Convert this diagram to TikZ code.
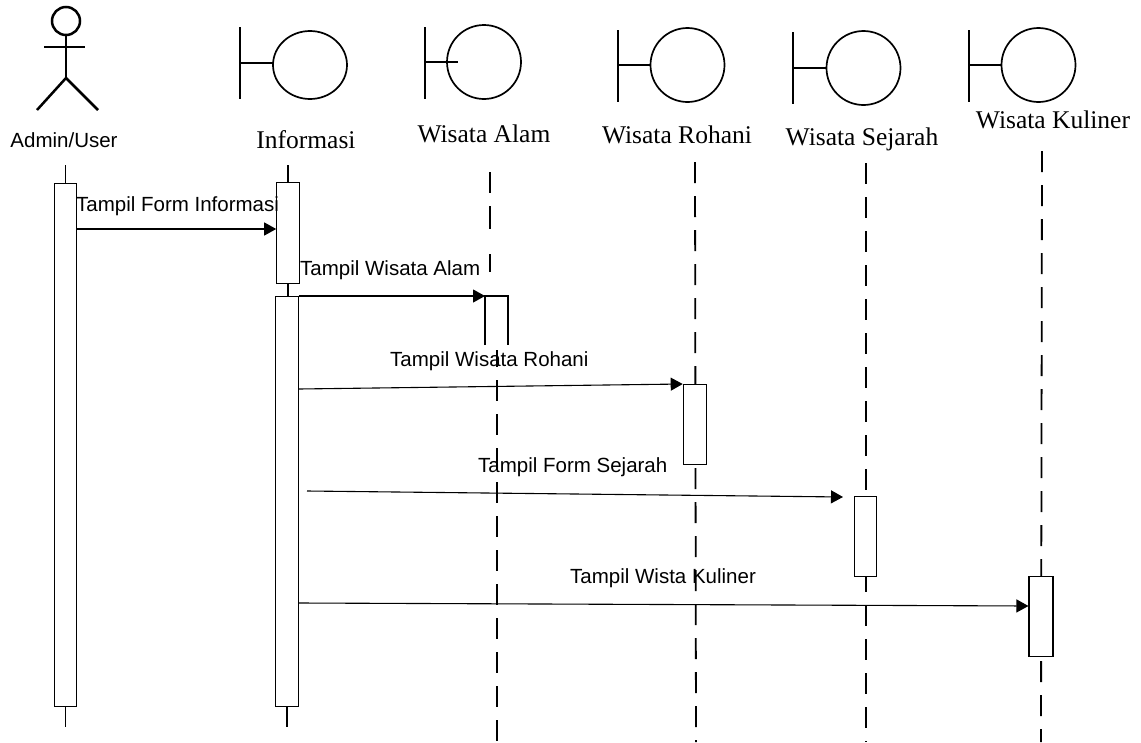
\documentclass[tikz,border=0pt]{standalone}
\usepackage{fontspec}
\setmainfont{Liberation Serif}
\setsansfont{Liberation Sans}
\usetikzlibrary{arrows.meta}
\begin{document}
\begin{tikzpicture}[x=1pt,y=-1pt,
  icon/.style={line width=1.7pt},
  actorline/.style={line width=2.5pt},
  act/.style={draw,line width=1.1pt,fill=white,inner sep=0pt,minimum width=22.5pt},
  life/.style={line width=1.1pt},
  dashlife/.style={line width=1.8pt,dash pattern=on 21pt off 13pt},
  msg/.style={line width=1.1pt,-{Triangle[length=12pt,width=13pt]}},
  slabel/.style={font=\fontsize{20.5}{24}\sffamily,inner sep=0pt},
  tlabel/.style={font=\fontsize{25.5}{30}\rmfamily,inner sep=0pt,anchor=base}]
\useasboundingbox (0,0) rectangle (1141,742);
\fill[white] (0,0) rectangle (1141,742);

% ---- actor ----
\draw[actorline] (66,21) circle (14);
\draw[actorline] (66,35) -- (66,78);
\draw[actorline] (44,47) -- (85,47);
\draw[actorline] (37,110) -- (66,78) -- (98,110);
\node[slabel,anchor=base] (lAdmin) at (64,147) {Admin/User};

% ---- boundary icons ----
\draw[icon] (240,27) -- (240,99);
\draw[icon] (240,63) -- (273,63);
\draw[icon] (310,65) ellipse (37 and 34);
\node[tlabel] (lInfo) at (306,148) {Informasi};

\draw[icon] (425,27) -- (425,99);
\draw[icon] (425,62) -- (458,62);
\draw[icon] (484,62) circle (37);
\node[tlabel] (lAlam) at (484,142) {Wisata Alam};

\draw[icon] (618,30) -- (618,102);
\draw[icon] (618,65) -- (650,65);
\draw[icon] (687.5,65) circle (37);
\node[tlabel] (lRohani) at (677,143) {Wisata Rohani};

\draw[icon] (793,32) -- (793,104);
\draw[icon] (793,68) -- (826,68);
\draw[icon] (863.5,68) circle (37);
\node[tlabel] (lSejarah) at (862,145) {Wisata Sejarah};

\draw[icon] (969,30) -- (969,102);
\draw[icon] (969,65) -- (1001,65);
\draw[icon] (1038.5,65) circle (37);
\node[tlabel] (lKuliner) at (1053,128) {Wisata Kuliner};

% ---- lifelines & activations ----
% Admin/User
\coordinate (aTop) at (65.5,165);
\node[act,anchor=north,minimum height=523pt] (aAct) at (65.5,183) {};
\coordinate (aBot) at (65.5,727);
\draw[life] (aTop) -- (aAct.north);
\draw[life] (aAct.south) -- (aBot);

% Informasi
\coordinate (iTop) at (288,165);
\node[act,anchor=north,minimum height=101pt] (iAct1) at (288,182) {};
\node[act,anchor=north,minimum height=410pt] (iAct2) at (287,296) {};
\coordinate (iBot) at (287,727);
\draw[life] (iTop) -- (iAct1.north);
\draw[life] (iAct1.south) -- (288,296);
\draw[life] (iAct2.south) -- (iBot);

% Wisata Alam
\coordinate (wTop) at (490,172);
\coordinate (wMid) at (490,273);
\draw[dashlife,dash pattern=on 21pt off 13pt on 23pt off 25pt on 18pt off 10pt] (wTop) -- (wMid);
\coordinate (wBoxL) at (485,296);
\coordinate (wBoxR) at (508,296);
\draw[line width=1.1pt] (485,345) -- (wBoxL) -- (wBoxR) -- (508,345);
\coordinate (wLow) at (497,350);
\coordinate (wBot) at (497,742);
\draw[dashlife,dash phase=4pt] (wLow) -- (wBot);

% Wisata Rohani
\coordinate (rTop) at (695,162);
\coordinate (rBot) at (696,742);
\draw[dashlife] (rTop) -- (rBot);
\node[act,anchor=north,minimum width=23.5pt,minimum height=80pt] (rAct) at (695,384) {};

% Wisata Sejarah
\coordinate (sTop) at (866,163);
\coordinate (sBot) at (866,742);
\draw[dashlife] (sTop) -- (sBot);
\node[act,anchor=north,minimum height=80pt] (sAct) at (865.5,496) {};

% Wisata Kuliner
\coordinate (kTop) at (1042,151);
\coordinate (kBot) at (1041,742);
\draw[dashlife] (kTop) -- (kBot);
\node[act,anchor=north,minimum width=24pt,minimum height=80pt] (kAct) at (1041,576) {};

% ---- messages ----
\coordinate (m1s) at (aAct.north east |- 0,229);
\coordinate (m1e) at (iAct1.north west |- 0,229);
\draw[msg] (m1s) -- (m1e);
\node[slabel,anchor=base west] (t1) at (76,211) {Tampil Form Informasi};

\draw[msg] (iAct2.north east) -- (wBoxL);
\node[slabel,anchor=base west] (t2) at (300,275) {Tampil Wisata Alam};

\coordinate (m3s) at (iAct2.east |- 0,389);
\draw[msg] (m3s) -- (rAct.north west);
\node[slabel,anchor=base west] (t3) at (390,366) {Tampil Wisata Rohani};

\coordinate (m4s) at (307,491);
\coordinate (m4e) at (843,497);
\draw[msg] (m4s) -- (m4e);
\node[slabel,anchor=base west] (t4) at (478,472) {Tampil Form Sejarah};

\coordinate (m5s) at (iAct2.east |- 0,603);
\coordinate (m5e) at (kAct.west |- 0,606);
\draw[msg] (m5s) -- (m5e);
\node[slabel,anchor=base west] (t5) at (570,583) {Tampil Wista Kuliner};
\end{tikzpicture}
\end{document}
